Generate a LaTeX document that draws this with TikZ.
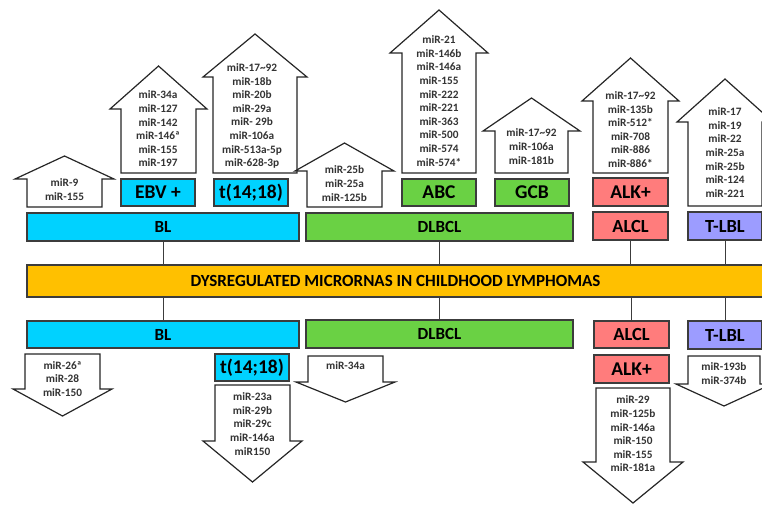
\documentclass[tikz,border=0pt]{standalone}
\usepackage{fontspec}
\setmainfont{Carlito}
\definecolor{blcyan}{HTML}{00D2FF}
\definecolor{dlgreen}{HTML}{6AD144}
\definecolor{alred}{HTML}{FF7C7C}
\definecolor{tlviolet}{HTML}{9C9CFF}
\definecolor{titleorange}{HTML}{FFC000}
\definecolor{edgegray}{HTML}{3C3C3C}

\begin{document}
\begin{tikzpicture}[x=1pt, y=-1pt]
    \tikzset{
        box/.style={draw=edgegray, line width=1.3pt, inner sep=0pt, text=black,
            font=\bfseries\fontsize{17}{20}\selectfont},
        subbox/.style={box, minimum width=74pt, minimum height=27pt,
            font=\bfseries\fontsize{19.5}{22}\selectfont},
        blockarrow/.style={draw=black!85, line width=1.2pt, fill=white},
        mirs/.style={align=center, inner sep=0pt, text=black!80,
            font=\bfseries\fontsize{11.3}{13.6}\selectfont},
        link/.style={draw=edgegray, line width=1pt},
        arrowup/.style args={#1:#2:#3:#4}{
            insert path={-- ++(0,-#2) -- ++(-#4,0) -- ++({#4+#1/2},-#3) -- ++({#4+#1/2},#3) -- ++(-#4,0) -- ++(0,#2) -- cycle}
        },
        arrowdown/.style args={#1:#2:#3:#4}{
            insert path={-- ++(0,#2) -- ++(-#4,0) -- ++({#4+#1/2},#3) -- ++({#4+#1/2},-#3) -- ++(-#4,0) -- ++(0,-#2) -- cycle}
        }
    }
    \clip (0,0) rectangle (762,504);

    % up-regulated
    \draw[blockarrow] (27,207) [arrowup=75:28:23:12];
    \draw[blockarrow] (121,173) [arrowup=75:64:43:11];
    \draw[blockarrow] (213,173) [arrowup=84:96:43:10];
    \draw[blockarrow] (307,207) [arrowup=75:36:28:12];
    \draw[blockarrow] (402,173) [arrowup=74:120:43:12];
    \draw[blockarrow] (495,173) [arrowup=73:42:33:12];
    \draw[blockarrow] (593,173) [arrowup=75:72:43:11];
    \draw[blockarrow] (688,206) [arrowup=74:84:43:11];

    \node[mirs] (upbl) at (64.5,189.5) {miR-9\\miR-155};
    \node[mirs] (upebv) at (158,129) {miR-34a\\miR-127\\miR-142\\miR-146ª\\miR-155\\miR-197};
    \node[mirs] (upt) at (252,116) {miR-17\textasciitilde92\\miR-18b\\miR-20b\\miR-29a\\miR- 29b\\miR-106a\\miR-513a-5p\\miR-628-3p};
    \node[mirs] (updl) at (344.5,183.5) {miR-25b\\miR-25a\\miR-125b};
    \node[mirs] (upabc) at (439,101) {miR-21\\miR-146b\\miR-146a\\miR-155\\miR-222\\miR-221\\miR-363\\miR-500\\miR-574\\miR-574*};
    \node[mirs] (upgcb) at (531.5,146.5) {miR-17\textasciitilde92\\miR-106a\\miR-181b};
    \node[mirs] (upalk) at (630.5,129.5) {miR-17\textasciitilde92\\miR-135b\\miR-512*\\miR-708\\miR-886\\miR-886*};
    \node[mirs] (uptlbl) at (725,152.5) {miR-17\\miR-19\\miR-22\\miR-25a\\miR-25b\\miR-124\\miR-221};

    % down-regulated
    \draw[blockarrow] (25,354) [arrowdown=75:35:27:12];
    \draw[blockarrow] (215,385) [arrowdown=75:56:41:12];
    \draw[blockarrow] (308,356) [arrowdown=75:26:20:12];
    \draw[blockarrow] (596,388) [arrowdown=74:74:41:13];
    \draw[blockarrow] (688,356) [arrowdown=72:28:22:12];

    \node[mirs] (downbl) at (62.5,379) {miR-26ª\\miR-28\\miR-150};
    \node[mirs] (downt) at (252.5,424) {miR-23a\\miR-29b\\miR-29c\\miR-146a\\miR150};
    \node[mirs] (downdl) at (345.5,366) {miR-34a};
    \node[mirs] (downalk) at (633,434) {miR-29\\miR-125b\\miR-146a\\miR-150\\miR-155\\miR-181a};
    \node[mirs] (downtlbl) at (724,373.5) {miR-193b\\miR-374b};

    % boxes
    \node[box, fill=titleorange, minimum width=737pt, minimum height=32pt] (title) at (395.5,281) {DYSREGULATED MICRORNAS IN CHILDHOOD LYMPHOMAS};

    \node[box, fill=blcyan, minimum width=272pt, minimum height=28pt] (blup) at (163,227) {BL};
    \node[box, fill=dlgreen, minimum width=267pt, minimum height=28pt] (dlbclup) at (439.5,227) {DLBCL};
    \node[subbox, fill=blcyan] (ebv) at (158,192.5) {EBV +};
    \node[subbox, fill=blcyan] (ttop) at (251,192.5) {t(14;18)};
    \node[subbox, fill=dlgreen] (abc) at (439,192.5) {ABC};
    \node[subbox, fill=dlgreen] (gcb) at (532,192.5) {GCB};
    \node[subbox, fill=alred, minimum width=75pt, minimum height=28pt] (alkup) at (630.5,192) {ALK+};
    \node[subbox, fill=alred, minimum width=75pt, minimum height=28pt, font=\bfseries\fontsize{18.5}{21}\selectfont] (alclup) at (630.5,226) {ALCL};
    \node[subbox, fill=tlviolet, minimum height=28pt, font=\bfseries\fontsize{18.5}{21}\selectfont] (tlblup) at (725,226) {T-LBL};

    \node[box, fill=blcyan, minimum width=272pt, minimum height=27pt] (blbot) at (163,334.5) {BL};
    \node[box, fill=dlgreen, minimum width=267pt, minimum height=28pt] (dlbclbot) at (439.5,334) {DLBCL};
    \node[subbox, fill=blcyan] (tbot) at (252,367.5) {t(14;18)};
    \node[subbox, fill=alred, minimum width=75pt, minimum height=27pt, font=\bfseries\fontsize{18.5}{21}\selectfont] (alclbot) at (631.5,334.5) {ALCL};
    \node[subbox, fill=alred, minimum width=75pt, minimum height=28pt] (alkbot) at (631.5,369) {ALK+};
    \node[subbox, fill=tlviolet, minimum height=28pt, font=\bfseries\fontsize{18.5}{21}\selectfont] (tlblbot) at (725,335) {T-LBL};

    % links to the title bar
    \draw[link] (blup.south) -- (blup.south |- title.north);
    \draw[link] (dlbclup.south) -- (dlbclup.south |- title.north);
    \draw[link] (alclup.south) -- (alclup.south |- title.north);
    \draw[link] (tlblup.south) -- (tlblup.south |- title.north);
    \draw[link] (blbot.north |- title.south) -- (blbot.north);
    \draw[link] (dlbclbot.north |- title.south) -- (dlbclbot.north);
    \draw[link] (alclbot.north |- title.south) -- (alclbot.north);
    \draw[link] (tlblbot.north |- title.south) -- (tlblbot.north);
\end{tikzpicture}
\end{document}
